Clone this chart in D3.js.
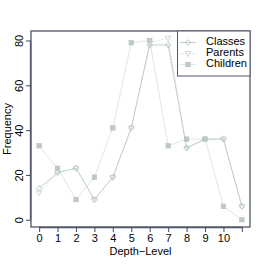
<!DOCTYPE html>
<html>
<head>
<meta charset="utf-8">
<script src="https://cdn.jsdelivr.net/npm/d3@7"></script>
<style>
  body { margin: 0; background: #fff; }
  text { font-family: "Liberation Sans", Arial, sans-serif; fill: #000; }
</style>
</head>
<body>
<div id="chart"></div>
<script>
let depth = [0, 1, 2, 3, 4, 5, 6, 7, 8, 9, 10, 11];
let classes = [14, 21, 23, 9, 19, 41, 78, 78, 32, 36, 36, 6];
let parents = [12, 21, 23, 9, 19, 41, 79, 81, 32, 36, 36, 6];
let children = [33, 23, 9, 19, 41, 79, 80, 33, 36, 36, 6, 0];
let xTicks = [0, 1, 2, 3, 4, 5, 6, 7, 8, 9, 10, 11];
let xTickLabels = ["0", "1", "2", "3", "4", "5", "6", "7", "8", "9", "10", ""];
let yTicks = [0, 20, 40, 60, 80];

let width = 266, height = 266;
let box = {left: 31, right: 250, top: 31, bottom: 227};
let axisColor = "#50566a";

let svg = d3.select("#chart").append("svg")
    .attr("width", width)
    .attr("height", height);

// R style 4% padding
let x = d3.scaleLinear()
    .domain([-0.44, 11.44])
    .range([box.left, box.right]);
let y = d3.scaleLinear()
    .domain([-3.24, 84.24])
    .range([box.bottom, box.top]);

let series = [
    {name: "Classes", values: classes, color: "#b3c4bd", dash: null, shape: "diamond"},
    {name: "Parents", values: parents, color: "#c9d6d1", dash: "1.5,1.5", shape: "triangle"},
    {name: "Children", values: children, color: "#d6dfdc", dash: null, shape: "square"}
];

function marker(g, shape, cx, cy, color) {
    let r = 2.8;
    if (shape === "diamond") {
        g.append("path")
            .attr("d", `M${cx},${cy - r}L${cx + r},${cy}L${cx},${cy + r}L${cx - r},${cy}Z`)
            .attr("fill", "none").attr("stroke", color).attr("stroke-width", 0.9);
    } else if (shape === "triangle") {
        g.append("path")
            .attr("d", `M${cx - r},${cy - r * 0.7}L${cx + r},${cy - r * 0.7}L${cx},${cy + r * 1.1}Z`)
            .attr("fill", "none").attr("stroke", color).attr("stroke-width", 0.9);
    } else {
        let h = 2.2;
        g.append("rect")
            .attr("x", cx - h).attr("y", cy - h)
            .attr("width", 2 * h).attr("height", 2 * h)
            .attr("fill", "#c4cfcb").attr("stroke", "#b6c3be").attr("stroke-width", 0.7);
        g.append("path")
            .attr("d", `M${cx - h},${cy - h}L${cx + h},${cy + h}M${cx + h},${cy - h}L${cx - h},${cy + h}`)
            .attr("stroke", "#aebbb6").attr("stroke-width", 0.5);
    }
}

let line = d3.line()
    .x((d, i) => x(depth[i]))
    .y(d => y(d));

// draw series, last first so Classes lies on top
series.slice().reverse().forEach(function (s) {
    let g = svg.append("g");
    g.append("path")
        .datum(s.values)
        .attr("d", line)
        .attr("fill", "none")
        .attr("stroke", s.color)
        .attr("stroke-width", 0.8)
        .attr("stroke-dasharray", s.dash);
    s.values.forEach(function (v, i) {
        marker(g, s.shape, x(depth[i]), y(v), s.color);
    });
});

// box
svg.append("rect")
    .attr("x", box.left).attr("y", box.top)
    .attr("width", box.right - box.left)
    .attr("height", box.bottom - box.top)
    .attr("fill", "none")
    .attr("stroke", axisColor)
    .attr("stroke-width", 1.3);

// axes
let xAxis = d3.axisBottom(x)
    .tickValues(xTicks)
    .tickFormat((d, i) => xTickLabels[i])
    .tickSize(5)
    .tickPadding(2);
let gx = svg.append("g")
    .attr("transform", "translate(0," + box.bottom + ")")
    .call(xAxis);
gx.select(".domain").attr("d", `M${x(0)},0.5H${x(11)}`).attr("stroke", axisColor).attr("stroke-width", 1.3);
gx.selectAll(".tick line").attr("stroke", axisColor).attr("stroke-width", 1.1);
gx.selectAll(".tick text").attr("font-size", 11).attr("font-family", "Liberation Sans, Arial, sans-serif").attr("fill", "#000");

let yAxis = d3.axisLeft(y)
    .tickValues(yTicks)
    .tickSize(5)
    .tickPadding(0);
let gy = svg.append("g")
    .attr("transform", "translate(" + box.left + ",0)")
    .call(yAxis);
gy.select(".domain").attr("d", `M-0.5,${y(0)}V${y(80)}`).attr("stroke", axisColor).attr("stroke-width", 1.3);
gy.selectAll(".tick line").attr("stroke", axisColor).attr("stroke-width", 1.1);
gy.selectAll(".tick text")
    .attr("font-size", 11)
    .attr("font-family", "Liberation Sans, Arial, sans-serif")
    .attr("fill", "#000")
    .attr("text-anchor", "middle")
    .attr("dy", null)
    .attr("x", null)
    .attr("transform", "translate(-11,0) rotate(-90)")
    .attr("y", 0)
    .attr("dominant-baseline", "middle");

// axis titles
svg.append("text")
    .attr("x", (box.left + box.right) / 2)
    .attr("y", 255)
    .attr("text-anchor", "middle")
    .attr("font-size", 11)
    .text("Depth\u2212Level");
svg.append("text")
    .attr("transform", "translate(8," + ((box.top + box.bottom) / 2) + ") rotate(-90)")
    .attr("text-anchor", "middle")
    .attr("dominant-baseline", "middle")
    .attr("font-size", 11)
    .text("Frequency");

// legend
let legend = svg.append("g");
legend.append("rect")
    .attr("x", 177.5).attr("y", box.top)
    .attr("width", box.right - 177.5).attr("height", 45)
    .attr("fill", "#fff")
    .attr("stroke", axisColor)
    .attr("stroke-width", 1);
series.forEach(function (s, i) {
    let ly = 42.5 + i * 11;
    legend.append("line")
        .attr("x1", 180).attr("x2", 196)
        .attr("y1", ly).attr("y2", ly)
        .attr("stroke", s.color)
        .attr("stroke-width", 0.8)
        .attr("stroke-dasharray", s.dash);
    marker(legend, s.shape, 188, ly, s.color);
    legend.append("text")
        .attr("x", 206)
        .attr("y", ly)
        .attr("dominant-baseline", "middle")
        .attr("font-size", 11)
        .text(s.name);
});
</script>
</body>
</html>
